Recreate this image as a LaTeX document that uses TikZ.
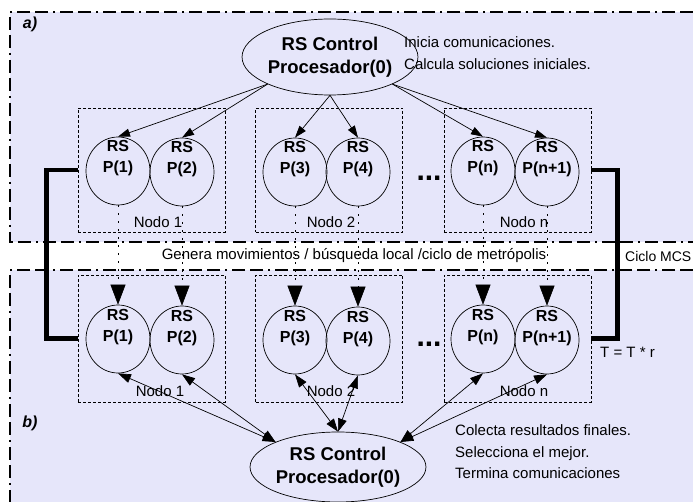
\documentclass[tikz,border=0pt]{standalone}
\usepackage{fontspec}
\setmainfont{Liberation Sans}
\usetikzlibrary{shapes.geometric,arrows.meta}
\definecolor{lav}{RGB}{230,230,250}
\begin{document}
\begin{tikzpicture}[x=1pt,y=-1pt,
  proc/.style={draw,ellipse,minimum width=64pt,minimum height=68pt,inner sep=0pt,line width=0.7pt},
  ctrl/.style={draw,ellipse,minimum width=128pt,minimum height=76pt,inner sep=0pt,line width=0.7pt,
    font=\fontsize{18.5}{23.5}\selectfont\bfseries,align=center},
  plbl/.style={font=\fontsize{16}{21}\selectfont\bfseries,align=center,inner sep=0pt},
  nodebox/.style={draw,dash pattern=on 3pt off 2pt,line width=0.7pt,minimum width=147pt,minimum height=124pt,inner sep=0pt},
  txt/.style={font=\fontsize{15}{21.5}\selectfont,inner sep=0pt},
  panel/.style={line width=1.2pt,dash pattern=on 13pt off 5pt on 13pt off 5pt on 2pt off 5pt},
  loopline/.style={line width=4.5pt},
  tarr/.style={line width=0.7pt,-{Triangle[length=12pt,width=8pt]}},
  biarr/.style={line width=0.7pt,{Triangle[length=13pt,width=9pt]}-{Triangle[length=13pt,width=9pt]}},
  vconn/.style={line width=0.6pt,dash pattern=on 2pt off 6pt,-{Triangle[length=20pt,width=15pt]}}
]
\useasboundingbox (0,0) rectangle (693,502);
% backgrounds
\fill[white] (0,0) rectangle (693,502);
\fill[lav] (10,12) rectangle (693,242);
\fill[lav] (10,270) rectangle (693,502);
\draw[panel] (693,12) -- (10,12) -- (10,242) -- (693,242);
\draw[panel] (693,270) -- (10,270) -- (10,502);

% labels a) b)
\node[txt,font=\fontsize{16}{18}\selectfont\bfseries\itshape] (la) at (30,24) {a)};
\node[txt,font=\fontsize{16}{18}\selectfont\bfseries\itshape] (lb) at (30,423) {b)};

% node boxes
\node[nodebox] (n1a) at (151.5,170) {};
\node[nodebox] (n2a) at (329,170) {};
\node[nodebox] (n3a) at (517.5,170) {};
\node[nodebox,minimum height=127pt] (n1b) at (151.5,338.5) {};
\node[nodebox,minimum height=127pt] (n2b) at (329,338.5) {};
\node[nodebox,minimum height=127pt] (n3b) at (517.5,338.5) {};

\node[txt] (nl1a) at (158,222) {Nodo 1};
\node[txt] (nl2a) at (331,222) {Nodo 2};
\node[txt] (nl3a) at (524,222) {Nodo n};
\node[txt] (nl1b) at (160,391) {Nodo 1};
\node[txt] (nl2b) at (331,391) {Nodo 2};
\node[txt] (nl3b) at (524,391) {Nodo n};

% control ellipses
\node[ctrl] (top) at (330,57) {RS Control\\Procesador(0)};
\node[ctrl,minimum height=70pt] (bot) at (338,467) {RS Control\\Procesador(0)};

% processors top row
\node[proc] (t1) at (118,171) {};
\node[proc] (t2) at (182,172) {};
\node[proc] (t3) at (295,172) {};
\node[proc] (t4) at (358,172) {};
\node[proc] (t5) at (483,171) {};
\node[proc] (t6) at (547,172) {};
% processors bottom row
\node[proc] (b1) at (118,339) {};
\node[proc] (b2) at (182,340) {};
\node[proc] (b3) at (295,340) {};
\node[proc] (b4) at (358,341) {};
\node[proc] (b5) at (483,339) {};
\node[proc] (b6) at (547,340) {};

\foreach \n/\l in {1/P(1),2/P(2),3/P(3),4/P(4),5/P(n),6/P(n+1)}{
  \node[plbl] (lt\n) at ([yshift=13pt]t\n.center) {RS\\\l};
  \node[plbl] (lb\n) at ([yshift=12pt]b\n.center) {RS\\\l};
}

% dots
\node[txt,font=\fontsize{30}{30}\selectfont\bfseries] (dta) at (429,178) {...};
\node[txt,font=\fontsize{30}{30}\selectfont\bfseries] (dtb) at (429,344) {...};

% texts
\node[txt,anchor=west,align=left] (ini) at (404,53) {Inicia comunicaciones.\\Calcula soluciones iniciales.};
\node[txt,anchor=west,align=left] (fin) at (455,452) {Colecta resultados finales.\\Selecciona el mejor.\\Termina comunicaciones};
\node[txt] (gen) at (354,256) {Genera movimientos / búsqueda local /ciclo de metrópolis};
\node[txt,anchor=west,font=\fontsize{14}{16}\selectfont] (mcs) at (625,256) {Ciclo MCS};
\node[txt,anchor=west] (temp) at (600,352) {T = T * r};

% top arrows
\draw[tarr] (top.south west) -- (t1.north);
\draw[tarr] (top.south west) -- (t2.north);
\draw[tarr] (top.south) -- (t3.north);
\draw[tarr] (top.south) -- (t4.north);
\draw[tarr] (top.south east) -- (t5.north);
\draw[tarr] (top.south east) -- (t6.north);

% vertical connectors
\foreach \n in {1,...,6}{
  \draw[vconn] (t\n.south) -- (b\n.north);
}

% bottom arrows
\draw[biarr] (b1.south) -- (bot.north west);
\draw[biarr] (b2.south) -- (bot.north west);
\draw[biarr] (b3.south) -- (bot.north);
\draw[biarr] (b4.south) -- (bot.north);
\draw[biarr] (b5.south) -- (bot.north east);
\draw[biarr] (b6.south) -- (bot.north east);

% MCS loop
\draw[loopline] (n1a.west) -- ++(-31,0) |- (n1b.west);
\draw[loopline] (n3a.east) -- ++(26,0) |- (n3b.east);
\end{tikzpicture}
\end{document}
